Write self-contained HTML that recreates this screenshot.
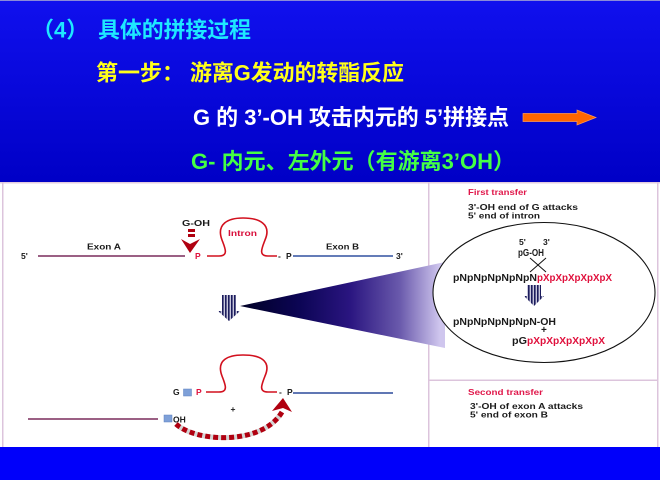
<!DOCTYPE html>
<html><head><meta charset="utf-8"><style>
html,body{margin:0;padding:0;width:660px;height:480px;overflow:hidden;background:#fff}
svg{display:block}
.cj{font-family:"Liberation Sans","Noto Sans CJK SC",sans-serif;font-weight:bold;font-size:22px}
.s{font-family:"Liberation Sans",Arial,sans-serif;font-weight:bold;font-size:8.5px;fill:#1a1a1a}
.m{font-family:"Liberation Sans",Arial,sans-serif;font-weight:bold;font-size:10px;fill:#1a1a1a}
</style></head><body>
<svg width="660" height="480" viewBox="0 0 660 480" xmlns="http://www.w3.org/2000/svg">
<defs>
<linearGradient id="hdr" x1="0" y1="0" x2="0" y2="1">
<stop offset="0" stop-color="#1010ee"/><stop offset="1" stop-color="#0000c6"/>
</linearGradient>
<linearGradient id="cone" gradientUnits="userSpaceOnUse" x1="240" y1="0" x2="440" y2="0">
<stop offset="0" stop-color="#000024"/><stop offset="0.3" stop-color="#0c0555"/>
<stop offset="0.55" stop-color="#2a1580"/><stop offset="0.8" stop-color="#6a5aac"/>
<stop offset="1" stop-color="#cfc6ee"/>
</linearGradient>
<pattern id="stripe" patternUnits="userSpaceOnUse" width="3" height="10">
<rect width="3" height="10" fill="#c8c8dc"/><rect width="1.6" height="10" fill="#1c1c5c"/>
</pattern>
</defs>

<!-- header -->
<rect x="0" y="0" width="660" height="182" fill="url(#hdr)"/>
<rect x="0" y="0" width="660" height="1" fill="#8a8ad8"/>
<!-- bottom band -->
<rect x="0" y="447" width="660" height="33" fill="#0000fa"/>
<!-- white area -->
<rect x="0" y="182" width="660" height="265" fill="#fff"/>
<rect x="0" y="182" width="660" height="1.5" fill="#e2cce0"/>
<rect x="2" y="182" width="1.5" height="265" fill="#dcc4dc"/>
<rect x="657" y="182" width="1.5" height="265" fill="#dcc4dc"/>
<rect x="428" y="182" width="1.5" height="265" fill="#dcc4dc"/>
<rect x="428" y="379.5" width="230" height="1.5" fill="#dcc4dc"/>

<!-- header text -->
<text class="cj" x="32" y="37.5" fill="#1ee8ff">（4）</text>
<text class="cj" x="98" y="37.5" fill="#1ee8ff" textLength="153" lengthAdjust="spacingAndGlyphs">具体的拼接过程</text>
<text class="cj" x="96" y="80.5" fill="#ffff1a">第一步：</text>
<text class="cj" x="190" y="80.5" fill="#ffff1a" textLength="214" lengthAdjust="spacingAndGlyphs">游离G发动的转酯反应</text>
<text class="cj" x="193" y="125" fill="#ffffff" textLength="316" lengthAdjust="spacingAndGlyphs">G 的 3’-OH 攻击内元的 5’拼接点</text>
<text class="cj" x="191" y="169" fill="#44ff44" textLength="324" lengthAdjust="spacingAndGlyphs">G- 内元、左外元（有游离3’OH）</text>
<!-- orange arrow -->
<polygon points="523,113.5 577,113.5 577,110 596,117.5 577,125 577,121.5 523,121.5" fill="#ff6600" stroke="#ff9a55" stroke-width="0.7"/>

<!-- cone -->
<polygon points="240,306 445,262 445,348" fill="url(#cone)"/>
<!-- ellipse -->
<ellipse cx="544" cy="292.5" rx="111" ry="70" fill="#fff" stroke="#111" stroke-width="1.1"/>

<!-- top row diagram -->
<text class="s" x="21" y="259">5'</text>
<line x1="38" y1="256" x2="185" y2="256" stroke="#7a2c5c" stroke-width="1.6"/>
<text class="s" x="87" y="249.5" textLength="34" lengthAdjust="spacingAndGlyphs">Exon A</text>
<text class="s" x="182" y="226" textLength="28" lengthAdjust="spacingAndGlyphs">G-OH</text>
<rect x="188" y="229" width="7" height="3" fill="#b00010"/>
<rect x="188" y="234" width="7" height="3" fill="#b00010"/>
<polygon points="181,239 190,244 200,239 190,253" fill="#b00010"/>
<text class="s" x="195" y="259" fill="#e0103c" style="fill:#e0103c">P</text>
<path d="M207,256 L219,256 C229,256 225,248 222,240 C216,224 228,218 243,218 C259,218 272,224 265,240 C262,248 258,256 268,256 L277,256" fill="none" stroke="#d2101e" stroke-width="1.6"/>
<text class="s" x="228" y="236" style="fill:#d8103c" textLength="29" lengthAdjust="spacingAndGlyphs">Intron</text>
<text class="s" x="278" y="259">-</text>
<text class="s" x="286" y="259">P</text>
<line x1="293" y1="256" x2="393" y2="256" stroke="#3050a0" stroke-width="1.6"/>
<text class="s" x="326" y="249.5" textLength="33" lengthAdjust="spacingAndGlyphs">Exon B</text>
<text class="s" x="396" y="259">3'</text>

<!-- striped arrow left -->
<polygon points="222,295 236,295 236,311 240,311 229,321 218,311 222,311" fill="url(#stripe)"/>

<!-- bottom row -->
<text class="s" x="173" y="395">G</text>
<rect x="183.5" y="389" width="8" height="7" fill="#7ea0d8" stroke="#5c80c0" stroke-width="0.5"/>
<text class="s" x="196" y="395" style="fill:#e0103c">P</text>
<path d="M206,392 L219,392 C229,392 225,384 222,376 C216,360 228,355 243,355 C259,355 272,360 265,376 C262,384 258,392 268,392 L277,392" fill="none" stroke="#d2101e" stroke-width="1.6"/>
<text class="s" x="279" y="395">-</text>
<text class="s" x="287" y="395">P</text>
<line x1="293" y1="393" x2="393" y2="393" stroke="#2c4a9c" stroke-width="1.6"/>
<text class="s" x="230.5" y="412">+</text>
<line x1="28" y1="419" x2="158" y2="419" stroke="#7a2c5c" stroke-width="1.6"/>
<rect x="164" y="415" width="8" height="7" fill="#7ea0d8" stroke="#5c80c0" stroke-width="0.5"/>
<text class="s" x="173" y="422.5">OH</text>
<path d="M176,424 C195,442 262,446 282,412" fill="none" stroke="#d4d4d4" stroke-width="5"/>
<path d="M176,424 C195,442 262,446 282,412" fill="none" stroke="#b00010" stroke-width="5" stroke-dasharray="5,3"/>
<polygon points="283,398 292,412 283,408 272,411" fill="#b00010"/>

<!-- right panel first transfer -->
<text class="s" x="468" y="195" style="fill:#e0174a" textLength="59" lengthAdjust="spacingAndGlyphs">First transfer</text>
<text class="s" x="468" y="210" textLength="110" lengthAdjust="spacingAndGlyphs">3'-OH end of G attacks</text>
<text class="s" x="468" y="218.5" textLength="72" lengthAdjust="spacingAndGlyphs">5' end of intron</text>
<text class="s" x="519" y="245">5'</text>
<text class="s" x="543" y="245">3'</text>
<text class="m" x="518" y="256" textLength="26" lengthAdjust="spacingAndGlyphs">pG-OH</text>
<line x1="530" y1="258" x2="546" y2="272" stroke="#111" stroke-width="1"/>
<line x1="546" y1="258" x2="530" y2="272" stroke="#111" stroke-width="1"/>
<text class="m" x="453" y="281" textLength="84" lengthAdjust="spacingAndGlyphs">pNpNpNpNpNpN</text>
<text class="m" x="537" y="281" style="fill:#e0103c" textLength="75" lengthAdjust="spacingAndGlyphs">pXpXpXpXpXpX</text>
<polygon points="527,285 541,285 541,296 544,296 534,306 524,296 527,296" fill="url(#stripe)"/>
<text class="m" x="453" y="325" textLength="103" lengthAdjust="spacingAndGlyphs">pNpNpNpNpNpN-OH</text>
<text class="m" x="541" y="333">+</text>
<text class="m" x="512" y="344" textLength="15" lengthAdjust="spacingAndGlyphs">pG</text>
<text class="m" x="527" y="344" style="fill:#e0103c" textLength="78" lengthAdjust="spacingAndGlyphs">pXpXpXpXpXpX</text>

<!-- second transfer -->
<text class="s" x="468" y="395" style="fill:#e0174a" textLength="75" lengthAdjust="spacingAndGlyphs">Second transfer</text>
<text class="s" x="470" y="409" textLength="113" lengthAdjust="spacingAndGlyphs">3'-OH of exon A attacks</text>
<text class="s" x="470" y="417.5" textLength="78" lengthAdjust="spacingAndGlyphs">5' end of exon B</text>
</svg>
</body></html>
